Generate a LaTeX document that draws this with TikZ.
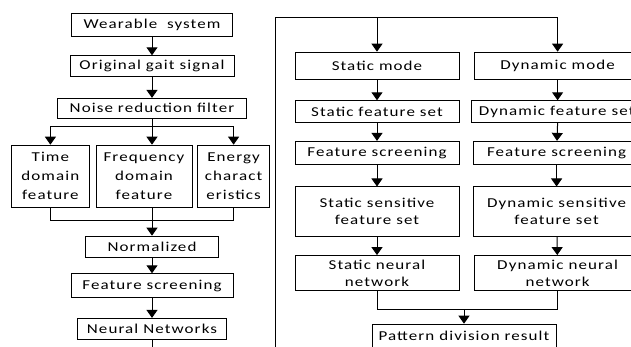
\documentclass[tikz,border=0pt]{standalone}
\usepackage{fontspec}
\setmainfont{Carlito}[FakeStretch=1.25,LetterSpace=8]
\usetikzlibrary{positioning, arrows.meta}

\begin{document}
\begin{tikzpicture}[x=1pt, y=-1pt, >={Triangle[width=11pt, length=8pt]}, line width=1pt, node distance=20pt]
    \tikzstyle{box}=[draw, line width=0.6pt, inner sep=0pt, align=center, minimum height=22pt, font=\fontsize{13.6}{19}\selectfont]
    \clip (0,0) rectangle (631,347);

    % left column
    \node[box, minimum width=161pt, minimum height=23pt] (wear) at (152,24.5) {Wearable\ \ system};
    \node[box, minimum width=164pt, minimum height=21pt, below=19pt of wear] (orig) {Original gait signal};
    \node[box, minimum width=189pt, minimum height=20pt, below=21pt of orig] (noise) {Noise reduction filter};
    \node[box, minimum width=96pt, minimum height=62pt] (freq) at (144,176) {Frequency\\domain\\feature};
    \node[box, minimum width=78pt, minimum height=62pt, left=6pt of freq] (time) {Time\\domain\\feature};
    \node[box, minimum width=72pt, minimum height=62pt, right=5pt of freq] (energy) {Energy\\charact\\eristics};
    \node[box, minimum width=133pt, minimum height=21pt] (norm) at (152,246.5) {Normalized};
    \node[box, minimum width=162pt, minimum height=24pt, below=16pt of norm] (fscr) {Feature screening};
    \node[box, minimum width=149pt, minimum height=21pt, below=20pt of fscr] (nn) {Neural Networks};

    % right column
    \node[box, minimum width=164pt, minimum height=27pt] (smode) at (377,65.5) {Static mode};
    \node[box, minimum width=164pt, below=21pt of smode] (sfeat) {Static feature set};
    \node[box, minimum width=164pt, minimum height=23pt, below=18pt of sfeat] (sscr) {Feature screening};
    \node[box, minimum width=164pt, minimum height=49pt, below=22pt of sscr, font=\fontsize{13.6}{17}\selectfont] (ssens) {Static sensitive\\feature set};
    \node[box, minimum width=164pt, minimum height=35pt, below=19pt of ssens, font=\fontsize{13.6}{17}\selectfont] (snn) {Static neural\\network};

    \node[box, minimum width=166pt, minimum height=27pt, right=15pt of smode] (dmode) {Dynamic mode};
    \node[box, minimum width=170pt, right=12pt of sfeat] (dfeat) {Dynamic feature set};
    \node[box, minimum width=166pt, minimum height=23pt, right=14pt of sscr] (dscr) {Feature screening};
    \node[box, minimum width=166pt, minimum height=49pt, right=14pt of ssens, font=\fontsize{13.6}{17}\selectfont] (dsens) {Dynamic sensitive\\feature set};
    \node[box, minimum width=166pt, minimum height=35pt, right=15pt of snn, font=\fontsize{13.6}{17}\selectfont] (dnn) {Dynamic neural\\network};

    \node[box, minimum width=184pt, minimum height=24pt] (pat) at (464,336) {Pattern division result};

    % left connectors
    \draw[->] (wear) -- (orig);
    \draw[->] (orig) -- (noise);
    \draw (noise.south) -- ++(0,8) coordinate (split);
    \draw[->] (split) -| (time.north);
    \draw[->] (split) -| (energy.north);
    \draw[->] (split) -- (split |- freq.north);
    \draw (time.south) -- ++(0,13) coordinate (tj) -| (energy.south);
    \draw (split |- freq.south) -- (split |- tj);
    \draw[->] (split |- tj) -- (norm);
    \draw[->] (norm) -- (fscr);
    \draw[->] (fscr) -- (nn);

    % feedback into the right frame
    \coordinate (frame) at (275,18);
    \draw[->] (nn.south) -- ++(0,30) -| (frame) -| (dmode.north);
    \draw[->] (frame -| smode.north) -- (smode.north);

    % right connectors
    \draw[->] (smode) -- (sfeat);
    \draw[->] (sfeat) -- (sscr);
    \draw[->] (sscr) -- (ssens);
    \draw[->] (ssens) -- (snn);
    \draw[->] (dmode) -- (dfeat.north -| dmode);
    \draw[->] (dfeat.south -| dmode) -- (dscr);
    \draw[->] (dscr) -- (dsens);
    \draw[->] (dsens) -- (dnn);
    \draw (snn.south) -- ++(0,19) coordinate (mj) -| (dnn.south);
    \draw[->] (mj -| pat.north) -- (pat.north);
\end{tikzpicture}
\end{document}
